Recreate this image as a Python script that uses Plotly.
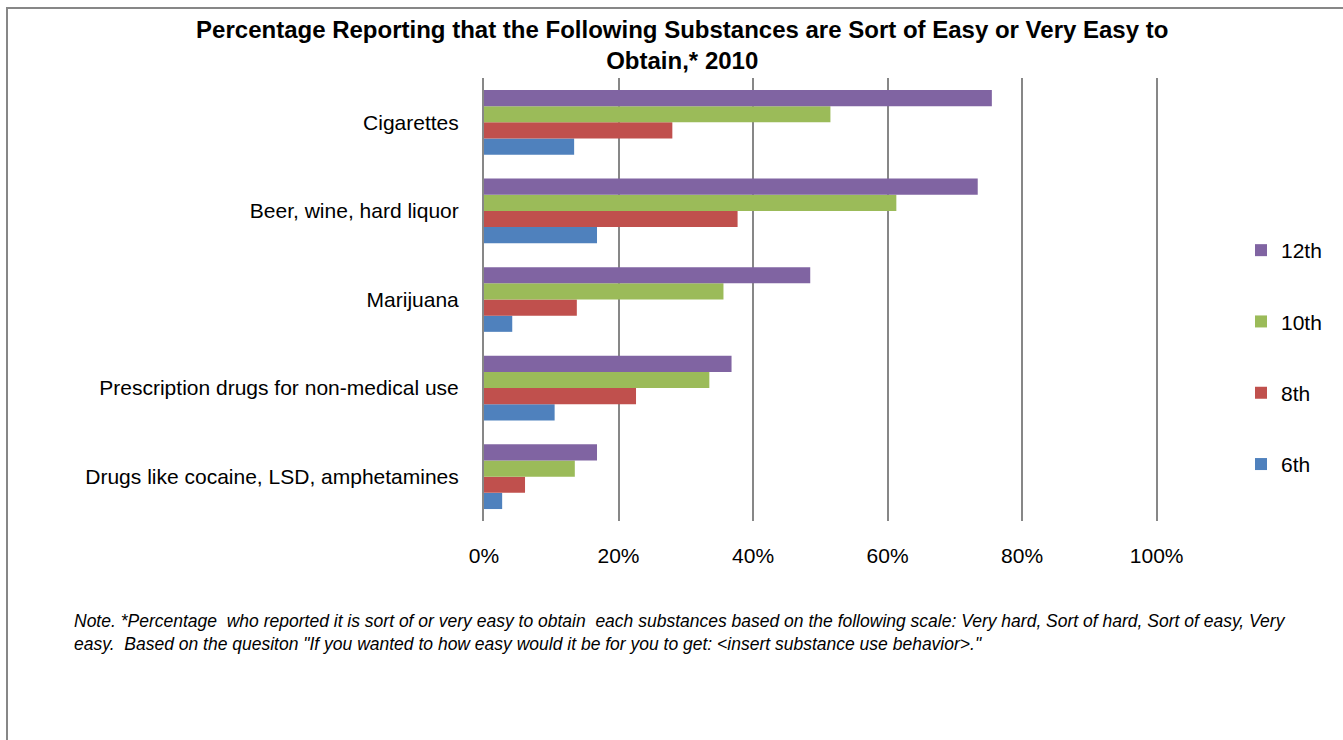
import plotly.graph_objects as go

categories = ["Cigarettes", "Beer, wine, hard liquor", "Marijuana",
              "Prescription drugs for non-medical use",
              "Drugs like cocaine, LSD, amphetamines"]
grade_6 = [13.4, 16.8, 4.2, 10.5, 2.7]
grade_8 = [28.0, 37.7, 13.8, 22.6, 6.1]
grade_10 = [51.5, 61.3, 35.6, 33.5, 13.5]
grade_12 = [75.5, 73.4, 48.5, 36.8, 16.8]
series_names = ["6th", "8th", "10th", "12th"]
colors = ["#4F81BD", "#C0504D", "#9BBB59", "#8064A2"]
x_ticks = [0, 20, 40, 60, 80, 100]
x_labels = ["0%", "20%", "40%", "60%", "80%", "100%"]

W, H = 1343, 740
L, R, T, B = 484, 1158, 78, 521
FONT = "Liberation Sans Narrow, Arial Narrow, Liberation Sans, Arial"


def px_x(p):
    return (p - L) / (R - L)


def px_y(p):
    return (B - p) / (B - T)


fig = go.Figure()
for i, (name, vals, col) in enumerate(zip(series_names, [grade_6, grade_8, grade_10, grade_12], colors)):
    fig.add_trace(go.Bar(
        y=categories, x=vals, name=name, orientation="h",
        marker=dict(color=col, line=dict(width=0)),
        legendgroup=name, legendrank=len(series_names) - i,
    ))

fig.update_layout(
    width=W, height=H,
    paper_bgcolor="white", plot_bgcolor="white",
    margin=dict(l=L, r=W - R, t=T, b=H - B, autoexpand=False),
    barmode="group", bargap=0.27, bargroupgap=0,
    font=dict(family=FONT, size=20, color="#000000"),
    title=dict(
        text="<b>Percentage Reporting that the Following Substances are Sort of Easy or Very Easy to<br>Obtain,* 2010</b>",
        x=0.508, xanchor="center", y=0.9488, yanchor="top",
        font=dict(family=FONT, size=24, color="#000000"),
    ),
    xaxis=dict(
        range=[0, 100.2], tickvals=x_ticks, ticktext=x_labels,
        showgrid=True, gridcolor="#878787", gridwidth=2,
        zeroline=False, showline=False, ticks="", ticklen=0,
        tickfont=dict(size=21), fixedrange=True, automargin=False,
        ticklabelstandoff=20,
    ),
    yaxis=dict(
        categoryorder="array", categoryarray=categories[::-1],
        showline=True, linecolor="#878787", linewidth=2,
        showgrid=False, ticks="", ticklen=0, automargin=False,
        tickfont=dict(size=21), ticklabelstandoff=19, fixedrange=True,
    ),
    legend=dict(
        x=px_x(1241), xanchor="left", y=px_y(230), yanchor="top",
        traceorder="grouped", tracegroupgap=41,
        font=dict(family=FONT, size=21),
        itemwidth=30, bgcolor="rgba(0,0,0,0)",
    ),
    showlegend=True,
)

fig.add_shape(type="rect", xref="paper", yref="paper",
              x0=px_x(7), x1=px_x(1360), y0=px_y(760), y1=px_y(8),
              line=dict(color="#878787", width=2), fillcolor="rgba(0,0,0,0)", layer="below")

fig.add_annotation(
    xref="paper", yref="paper",
    x=px_x(72), xanchor="left",
    y=px_y(609), yanchor="top",
    align="left", showarrow=False,
    text="<i>Note. *Percentage  who reported it is sort of or very easy to obtain  each substances based on the following scale: Very hard, Sort of hard, Sort of easy, Very<br>easy.  Based on the quesiton \"If you wanted to how easy would it be for you to get: &lt;insert substance use behavior&gt;.\"</i>",
    font=dict(family=FONT, size=17.5, color="#000000"),
)

fig.write_html("out.html", post_script="document.body.style.margin='0';",
               config={"displayModeBar": False})
